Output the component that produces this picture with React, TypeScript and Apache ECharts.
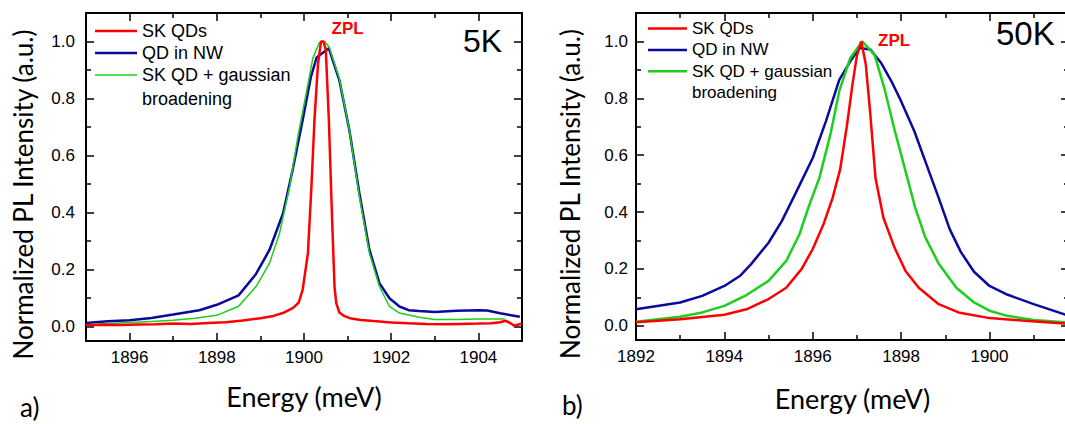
import React, { useEffect, useRef } from "react";
import * as echarts from "echarts";

const FONT = "'Liberation Sans', Arial, sans-serif";
const TITLE_FONT = "Lato, 'Open Sans', sans-serif";

const NAME_SK = "SK QDs";
const NAME_NW = "QD in NW";
const NAME_GB = "SK QD + gaussian broadening";

const RED = "#ff0000";
const BLUE = "#0a0a9c";
const GREEN = "#1ccf1c";

// ---------- 5K panel ----------
const e5K_sk = [1895.0, 1895.4, 1895.8, 1896.2, 1896.6, 1897.0, 1897.4, 1897.8, 1898.2, 1898.6, 1899.0, 1899.3, 1899.55, 1899.75, 1899.88, 1899.97, 1900.09, 1900.17, 1900.24, 1900.32, 1900.39, 1900.45, 1900.5, 1900.57, 1900.645, 1900.7, 1900.74, 1900.81, 1900.92, 1901.05, 1901.3, 1901.6, 1902.0, 1902.4, 1902.8, 1903.2, 1903.6, 1904.0, 1904.3, 1904.5, 1904.62, 1904.72, 1904.82, 1904.92, 1905.0];
const i5K_sk = [0.005, 0.007, 0.006, 0.008, 0.009, 0.011, 0.01, 0.013, 0.016, 0.022, 0.03, 0.038, 0.05, 0.066, 0.085, 0.13, 0.258, 0.49, 0.725, 0.92, 1.0, 1.0, 0.97, 0.725, 0.375, 0.14, 0.083, 0.05, 0.038, 0.03, 0.024, 0.02, 0.015, 0.012, 0.01, 0.009, 0.01, 0.011, 0.012, 0.016, 0.021, 0.014, 0.004, 0.008, 0.012];

const e5K_nw = [1895.0, 1895.5, 1896.0, 1896.5, 1897.0, 1897.6, 1898.0, 1898.5, 1898.9, 1899.21, 1899.52, 1899.74, 1899.97, 1900.16, 1900.29, 1900.57, 1900.81, 1901.04, 1901.27, 1901.5, 1901.73, 1901.96, 1902.19, 1902.4, 1902.64, 1903.0, 1903.5, 1904.0, 1904.2, 1904.5, 1904.95];
const i5K_nw = [0.013, 0.019, 0.023, 0.031, 0.043, 0.058, 0.077, 0.11, 0.185, 0.27, 0.398, 0.55, 0.725, 0.877, 0.944, 0.976, 0.865, 0.69, 0.468, 0.27, 0.153, 0.1, 0.071, 0.058, 0.055, 0.052, 0.056, 0.058, 0.057, 0.047, 0.035];

const e5K_gb = [1895.0, 1895.5, 1896.0, 1896.5, 1897.0, 1897.5, 1898.0, 1898.5, 1898.9, 1899.21, 1899.44, 1899.67, 1899.86, 1900.05, 1900.2, 1900.35, 1900.47, 1900.58, 1900.81, 1901.04, 1901.27, 1901.5, 1901.73, 1901.96, 1902.19, 1902.64, 1903.0, 1903.5, 1904.0, 1904.6];
const i5K_gb = [0.007, 0.011, 0.015, 0.018, 0.023, 0.03, 0.04, 0.072, 0.141, 0.223, 0.328, 0.491, 0.667, 0.818, 0.94, 0.996, 1.0, 0.98, 0.87, 0.69, 0.456, 0.258, 0.141, 0.071, 0.048, 0.033, 0.025, 0.025, 0.027, 0.027];

// ---------- 50K panel ----------
const e50K_sk = [1892.0, 1893.0, 1894.0, 1894.5, 1895.0, 1895.4, 1895.75, 1896.0, 1896.25, 1896.45, 1896.62, 1896.77, 1896.9, 1897.0, 1897.1, 1897.2, 1897.3, 1897.42, 1897.6, 1897.85, 1898.1, 1898.4, 1898.85, 1899.3, 1900.0, 1900.8, 1901.7, 1902.0];
const i50K_sk = [0.012, 0.023, 0.039, 0.058, 0.094, 0.134, 0.2, 0.27, 0.36, 0.45, 0.55, 0.7, 0.85, 0.95, 1.0, 0.92, 0.75, 0.52, 0.38, 0.275, 0.193, 0.134, 0.076, 0.047, 0.027, 0.018, 0.008, 0.006];

const e50K_nw = [1892.0, 1893.0, 1893.5, 1894.0, 1894.35, 1894.6, 1895.0, 1895.3, 1895.6, 1896.0, 1896.3, 1896.6, 1896.85, 1897.05, 1897.3, 1897.55, 1897.8, 1898.0, 1898.3, 1898.6, 1898.85, 1899.1, 1899.35, 1899.65, 1900.0, 1900.4, 1901.0, 1901.7, 1902.0];
const i50K_nw = [0.058, 0.082, 0.105, 0.14, 0.175, 0.216, 0.292, 0.368, 0.462, 0.59, 0.72, 0.865, 0.93, 0.977, 0.972, 0.924, 0.854, 0.79, 0.684, 0.556, 0.45, 0.34, 0.26, 0.19, 0.14, 0.11, 0.076, 0.04, 0.03];

const e50K_gb = [1892.0, 1893.0, 1893.5, 1894.0, 1894.5, 1895.0, 1895.4, 1895.7, 1895.9, 1896.15, 1896.4, 1896.6, 1896.85, 1897.12, 1897.4, 1897.62, 1897.86, 1898.1, 1898.32, 1898.55, 1898.86, 1899.25, 1899.65, 1900.0, 1900.4, 1901.0, 1901.7, 1902.0];
const i50K_gb = [0.014, 0.032, 0.047, 0.07, 0.108, 0.158, 0.228, 0.322, 0.415, 0.52, 0.673, 0.825, 0.942, 1.0, 0.953, 0.836, 0.684, 0.544, 0.415, 0.31, 0.216, 0.134, 0.082, 0.053, 0.035, 0.02, 0.012, 0.01];

// ---------- ticks ----------
const x5KMajor = [1896, 1898, 1900, 1902, 1904];
const x5KMinor = [1897, 1899, 1901, 1903];
const x50KMajor = [1892, 1894, 1896, 1898, 1900];
const x50KMinor = [1893, 1895, 1897, 1899, 1901];
const yMajor = [0, 0.2, 0.4, 0.6, 0.8, 1.0];
const yMinor = [0.1, 0.3, 0.5, 0.7, 0.9];

const pairs = (xs: number[], ys: number[]) => xs.map((x, i) => [x, ys[i]]);

const tickStyle = { color: "#000", width: 1.5 };

function xAxes(grid: number, min: number, max: number, majors: number[], minors: number[], nameGap: number, namePad: number[]) {
  const base: any = {
    type: "value", gridIndex: grid, min, max,
    splitLine: { show: false },
    axisLine: { show: false, onZero: false },
  };
  return [
    {
      ...base, position: "bottom",
      axisTick: { show: true, inside: true, length: 8, customValues: majors, lineStyle: tickStyle },
      axisLabel: { show: true, customValues: majors, margin: 8, color: "#000", fontSize: 17, fontFamily: FONT, formatter: (v: number) => String(Math.round(v)) },
      name: "Energy (meV)", nameLocation: "middle", nameGap,
      nameTextStyle: { fontFamily: TITLE_FONT, fontSize: 27, color: "#000", padding: namePad },
    },
    { ...base, position: "bottom", axisTick: { show: true, inside: true, length: 5, customValues: minors, lineStyle: tickStyle }, axisLabel: { show: false } },
    { ...base, position: "top", axisTick: { show: true, inside: true, length: 8, customValues: majors, lineStyle: tickStyle }, axisLabel: { show: false } },
    { ...base, position: "top", axisTick: { show: true, inside: true, length: 5, customValues: minors, lineStyle: tickStyle }, axisLabel: { show: false } },
  ];
}

function yAxes(grid: number, labelMargin: number, nameGap: number) {
  const base: any = {
    type: "value", gridIndex: grid, min: -0.05, max: 1.1,
    splitLine: { show: false },
    axisLine: { show: false, onZero: false },
  };
  return [
    {
      ...base, position: "left",
      axisTick: { show: true, inside: true, length: 8, customValues: yMajor, lineStyle: tickStyle },
      axisLabel: { show: true, customValues: yMajor, margin: labelMargin, color: "#000", fontSize: 17, fontFamily: FONT, formatter: (v: number) => v.toFixed(1) },
      name: "Normalized PL Intensity (a.u.)", nameLocation: "middle", nameGap,
      nameTextStyle: { fontFamily: TITLE_FONT, fontSize: 26, color: "#000", padding: [0, 35, 0, 0] },
    },
    { ...base, position: "left", axisTick: { show: true, inside: true, length: 5, customValues: yMinor, lineStyle: tickStyle }, axisLabel: { show: false } },
    { ...base, position: "right", axisTick: { show: true, inside: true, length: 8, customValues: yMajor, lineStyle: tickStyle }, axisLabel: { show: false } },
    { ...base, position: "right", axisTick: { show: true, inside: true, length: 5, customValues: yMinor, lineStyle: tickStyle }, axisLabel: { show: false } },
  ];
}

function line(name: string, data: number[][], color: string, width: number, axisIndex: number) {
  return {
    type: "line", name, data, xAxisIndex: axisIndex, yAxisIndex: axisIndex,
    symbol: "none", showSymbol: false, smooth: false, clip: true,
    lineStyle: { color, width }, itemStyle: { color },
  };
}

const legendFormatter = (n: string) => (n === NAME_GB ? "SK QD + gaussian" : n);

function text(x: number, y: number, t: string, size: number, opts: any = {}) {
  return {
    type: "text", x, y, silent: true,
    style: {
      text: t, fill: opts.fill || "#000", fontSize: size, fontFamily: opts.font || FONT,
      fontWeight: opts.weight || "normal",
      align: opts.align || "left", textAlign: opts.align || "left",
      verticalAlign: "middle", textVerticalAlign: "middle",
    },
  };
}

const thick = "path://M0,0h40v2.6h-40z";
const thin = "path://M0,0h40v1.3h-40z";

export default function App() {
  const ref = useRef<HTMLDivElement>(null);
  useEffect(() => {
    if (!ref.current) return;
    const chart = echarts.init(ref.current, null, { renderer: "svg" });
    const option: any = {
      animation: false,
      backgroundColor: "#fff",
      grid: [
        { left: 86, top: 13, width: 436, height: 328, show: true, borderColor: "#000", borderWidth: 2, backgroundColor: "transparent", outerBoundsMode: "none" },
        { left: 636, top: 13, width: 433, height: 327, show: true, borderColor: "#000", borderWidth: 2, backgroundColor: "transparent", outerBoundsMode: "none" },
      ],
      xAxis: [
        ...xAxes(0, 1895, 1905, x5KMajor, x5KMinor, 42, [0, 0, 0, 0]),
        ...xAxes(1, 1892, 1901.8, x50KMajor, x50KMinor, 45, [0, 0, 0, 0]),
      ],
      yAxis: [
        ...yAxes(0, 11, 50),
        ...yAxes(1, 8, 53),
      ],
      legend: [
        {
          left: 95, top: 22, orient: "vertical", padding: 0, itemWidth: 42, itemHeight: 3, itemGap: 4,
          symbolKeepAspect: true,
          selectedMode: false,
          data: [
            { name: NAME_SK, icon: thick },
            { name: NAME_NW, icon: thick },
            { name: NAME_GB, icon: thin },
          ],
          formatter: legendFormatter,
          textStyle: { fontFamily: FONT, fontSize: 18, lineHeight: 18, color: "#000" },
        },
        {
          left: 648, top: 20, orient: "vertical", padding: 0, itemWidth: 39, itemHeight: 3, itemGap: 4.4,
          symbolKeepAspect: true,
          selectedMode: false,
          data: [
            { name: NAME_SK, icon: thick },
            { name: NAME_NW, icon: thick },
            { name: NAME_GB, icon: thick },
          ],
          formatter: legendFormatter,
          textStyle: { fontFamily: FONT, fontSize: 17, lineHeight: 17, color: "#000" },
        },
      ],
      graphic: [
        text(142, 98.5, "broadening", 18),
        text(692, 92, "broadening", 17),
        text(331.5, 28.5, "ZPL", 17, { fill: RED, weight: "bold" }),
        text(878, 40.5, "ZPL", 17, { fill: RED, weight: "bold" }),
        text(463, 41, "5K", 32),
        text(996, 33, "50K", 33),
        text(20, 407, "a)", 26, { font: TITLE_FONT }),
        text(562, 405, "b)", 26, { font: TITLE_FONT }),
      ],
      series: [
        line(NAME_NW, pairs(e5K_nw, i5K_nw), BLUE, 2.5, 0),
        line(NAME_GB, pairs(e5K_gb, i5K_gb), GREEN, 1.5, 0),
        line(NAME_SK, pairs(e5K_sk, i5K_sk), RED, 2.5, 0),
        line(NAME_NW, pairs(e50K_nw, i50K_nw), BLUE, 2.5, 4),
        line(NAME_GB, pairs(e50K_gb, i50K_gb), GREEN, 2.5, 4),
        line(NAME_SK, pairs(e50K_sk, i50K_sk), RED, 2.5, 4),
      ],
    };
    chart.setOption(option);
    return () => chart.dispose();
  }, []);
  return <div ref={ref} style={{ position: "absolute", left: 0, top: 0, width: 1065, height: 424 }} />;
}
